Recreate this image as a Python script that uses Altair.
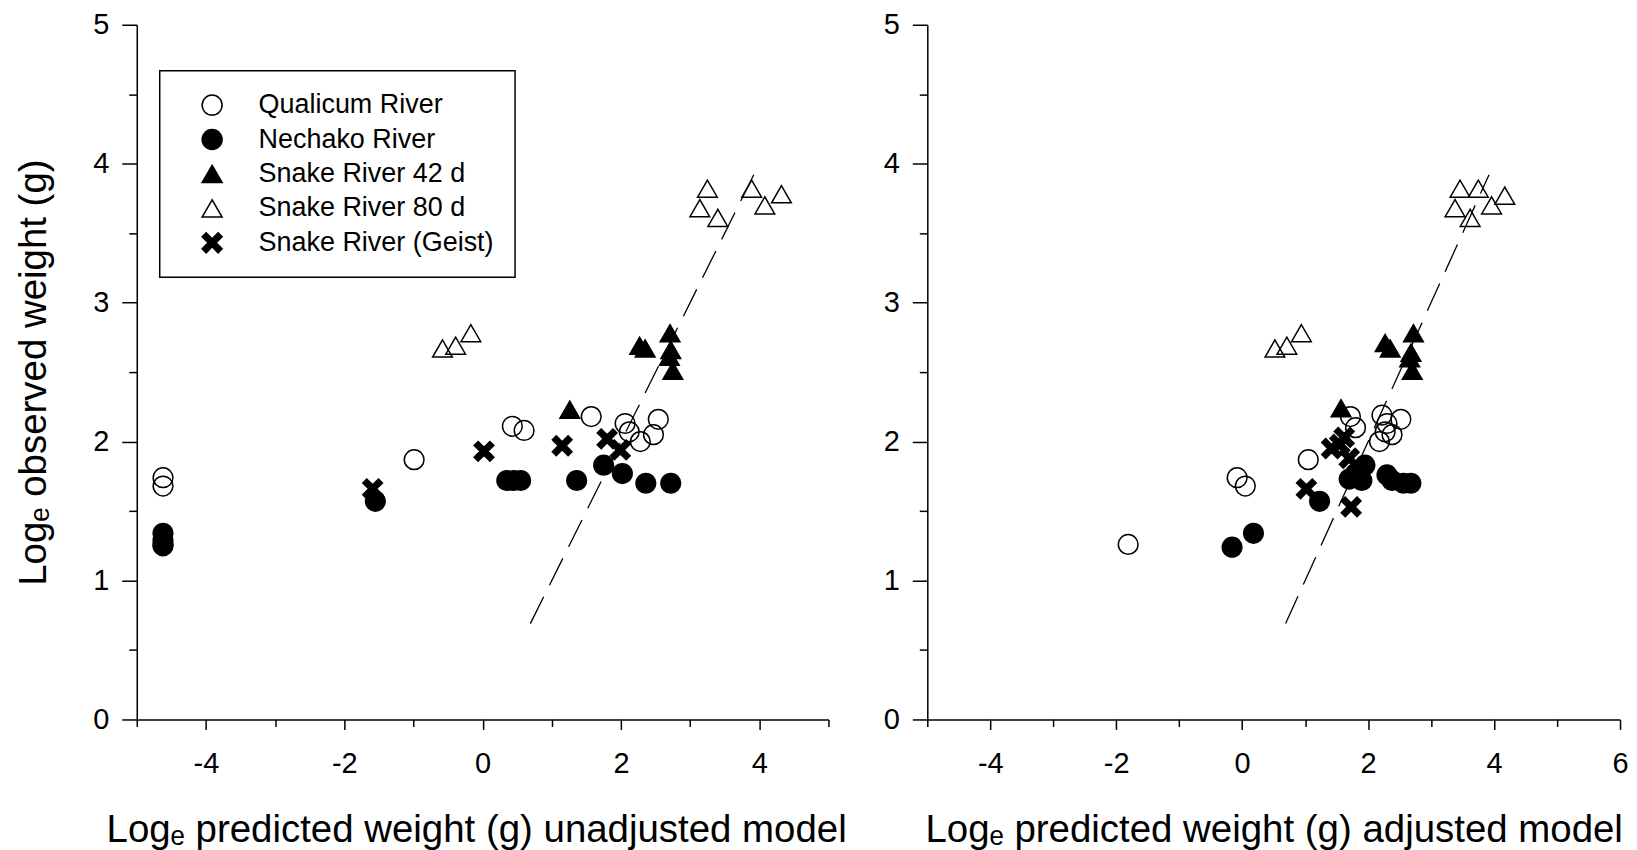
import altair as alt
import pandas as pd

# ---------------- data ----------------
SERIES = ["Qualicum River", "Nechako River", "Snake River 42 d",
          "Snake River 80 d", "Snake River (Geist)"]
DRAW_ORDER = ["Qualicum River", "Snake River 80 d", "Nechako River",
              "Snake River 42 d", "Snake River (Geist)"]

# left panel: unadjusted model
qual_x_l = [-4.62, -4.62, -4.62, -0.99, 0.43, 0.60, 1.57, 2.06, 2.12, 2.28, 2.47, 2.54]
qual_y_l = [1.74, 1.68, 1.26, 1.87, 2.11, 2.08, 2.18, 2.13, 2.07, 2.00, 2.05, 2.16]
nech_x_l = [-4.62, -4.62, -4.62, -1.55, 0.35, 0.45, 0.55, 1.36, 1.75, 2.02, 2.36, 2.72]
nech_y_l = [1.34, 1.29, 1.25, 1.57, 1.72, 1.72, 1.72, 1.72, 1.83, 1.77, 1.70, 1.70]
s42_x_l = [1.26, 2.27, 2.35, 2.71, 2.72, 2.70, 2.75]
s42_y_l = [2.23, 2.69, 2.67, 2.78, 2.66, 2.61, 2.51]
s80_x_l = [-0.58, -0.39, -0.17, 3.25, 3.14, 3.40, 3.89, 4.08, 4.32]
s80_y_l = [2.67, 2.69, 2.78, 3.82, 3.68, 3.61, 3.82, 3.70, 3.78]
geist_x_l = [-1.59, 0.02, 1.15, 1.80, 1.99]
geist_y_l = [1.66, 1.93, 1.97, 2.02, 1.94]

# right panel: adjusted model
qual_x_r = [-1.81, -0.08, 0.05, 1.05, 1.80, 1.72, 2.22, 2.30, 2.52, 2.38, 2.18, 2.27]
qual_y_r = [1.26, 1.74, 1.68, 1.87, 2.10, 2.18, 2.19, 2.13, 2.16, 2.05, 2.00, 2.07]
nech_x_r = [-0.16, 0.18, 1.23, 1.70, 1.80, 1.90, 1.95, 2.30, 2.38, 2.56, 2.68]
nech_y_r = [1.24, 1.34, 1.57, 1.73, 1.77, 1.72, 1.83, 1.76, 1.72, 1.70, 1.70]
s42_x_r = [1.57, 2.27, 2.35, 2.72, 2.68, 2.66, 2.70]
s42_y_r = [2.24, 2.71, 2.67, 2.78, 2.64, 2.60, 2.51]
s80_x_r = [0.52, 0.71, 0.94, 3.46, 3.75, 4.17, 3.38, 3.96, 3.62]
s80_y_r = [2.67, 2.69, 2.78, 3.82, 3.82, 3.77, 3.68, 3.70, 3.61]
geist_x_r = [1.02, 1.73, 1.42, 1.55, 1.62, 1.70]
geist_y_r = [1.66, 1.53, 1.95, 1.98, 2.03, 1.88]

# 1:1 reference line
line_x = [0.69, 3.92]
line_y = [0.69, 3.92]

x_ticks_left = [-5, -4, -3, -2, -1, 0, 1, 2, 3, 4, 5]
x_ticks_right = [-5, -4, -3, -2, -1, 0, 1, 2, 3, 4, 5, 6]
y_ticks = [0, 0.5, 1, 1.5, 2, 2.5, 3, 3.5, 4, 4.5, 5]

X_TITLE_L = "Logₑ predicted weight (g) unadjusted model"
X_TITLE_R = "Logₑ predicted weight (g) adjusted model"
Y_TITLE = "Logₑ observed weight (g)"

# ---------------- styling ----------------
X_PATH = ("M0.600,-1.000L1.000,-0.600L0.400,0L1.000,0.600L0.600,1.000L0,0.400"
          "L-0.600,1.000L-1.000,0.600L-0.400,0L-1.000,-0.600L-0.600,-1.000L0,-0.400Z")
SHAPES = ["circle", "circle", "triangle-up", "triangle-up", X_PATH]
FILLS = ["transparent", "black", "black", "transparent", "black"]
STROKES = ["black", "black", "black", "black", "black"]
FONT = "Liberation Sans"


def frame(groups):
    rows = []
    for name in DRAW_ORDER:
        xs, ys = groups[name]
        for xv, yv in zip(xs, ys):
            rows.append({"x": xv, "y": yv, "series": name})
    return pd.DataFrame(rows)


left_df = frame({
    "Qualicum River": (qual_x_l, qual_y_l),
    "Nechako River": (nech_x_l, nech_y_l),
    "Snake River 42 d": (s42_x_l, s42_y_l),
    "Snake River 80 d": (s80_x_l, s80_y_l),
    "Snake River (Geist)": (geist_x_l, geist_y_l),
})
right_df = frame({
    "Qualicum River": (qual_x_r, qual_y_r),
    "Nechako River": (nech_x_r, nech_y_r),
    "Snake River 42 d": (s42_x_r, s42_y_r),
    "Snake River 80 d": (s80_x_r, s80_y_r),
    "Snake River (Geist)": (geist_x_r, geist_y_r),
})
line_df = pd.DataFrame({"x": line_x, "y": line_y})

leg = alt.Legend(
    title=None,
    orient="none",
    legendX=23,
    legendY=46,
    padding=21,
    strokeColor="black",
    fillColor="white",
    labelFont=FONT,
    labelFontSize=27,
    labelColor="black",
    labelLimit=500,
    symbolSize=400,
    symbolStrokeColor="black",
    symbolStrokeWidth=1.5,
    symbolOffset=18,
    labelOffset=33,
    rowPadding=6.5,
)


def panel(df, xdomain, xticks, xtitle, ytitle, with_legend, width, title_x):
    x_axis = alt.Axis(
        values=xticks,
        labelExpr="datum.value % 2 === 0 ? '' + datum.value : ''",
        tickSize={"condition": {"test": "datum.value % 2 === 0", "value": 10}, "value": 7},
        labelPadding=20,
        title=xtitle,
        titlePadding=33,
        titleX=title_x,
    )
    y_axis = alt.Axis(
        values=y_ticks,
        labelExpr="datum.value % 1 === 0 ? '' + datum.value : ''",
        tickSize={"condition": {"test": "datum.value % 1 === 0", "value": 15}, "value": 8},
        labelPadding=13,
        title=ytitle if ytitle else "",
        titlePadding=39,
    )
    xenc = alt.X("x:Q", scale=alt.Scale(domain=xdomain, nice=False, zero=False), axis=x_axis)
    yenc = alt.Y("y:Q", scale=alt.Scale(domain=[0, 5], nice=False, zero=False), axis=y_axis)

    line = alt.Chart(line_df).mark_line(
        color="black", strokeWidth=1.3, strokeDash=[30, 13]
    ).encode(x=xenc, y=yenc)

    lg = leg if with_legend else None
    shape = alt.Shape("series:N", scale=alt.Scale(domain=SERIES, range=SHAPES), legend=lg)
    fill = alt.Fill("series:N", scale=alt.Scale(domain=SERIES, range=FILLS), legend=lg)
    stroke = alt.Stroke("series:N", scale=alt.Scale(domain=SERIES, range=STROKES), legend=lg)

    pts = alt.Chart(df).mark_point(
        strokeWidth=1.5, opacity=1, size=390
    ).encode(x=xenc, y=yenc, shape=shape, fill=fill, stroke=stroke)
    return alt.layer(line, pts).properties(width=width, height=696)


left = panel(left_df, [-5, 5], x_ticks_left, X_TITLE_L, Y_TITLE, True, 693, 340)
right = panel(right_df, [-5, 6], x_ticks_right, X_TITLE_R, None, False, 694, 347)

chart = alt.hconcat(left, right, spacing=99, bounds="flush").resolve_scale(
    shape="independent", fill="independent", stroke="independent"
).properties(
    padding={"left": 6, "top": 2, "right": 0, "bottom": 0}
).configure(
    font=FONT
).configure_view(
    stroke=None
).configure_legend(
    strokeWidth=1.5
).configure_axis(
    grid=False,
    domainColor="black",
    domainWidth=1.5,
    tickColor="black",
    tickWidth=1.5,
    labelFont=FONT,
    labelFontSize=29,
    labelColor="black",
    labelFlush=False,
    labelOverlap=False,
    titleFont=FONT,
    titleFontSize=38.5,
    titleFontWeight="normal",
    titleColor="black",
)

chart.save("out.html", embed_options={"renderer": "svg", "actions": False})
